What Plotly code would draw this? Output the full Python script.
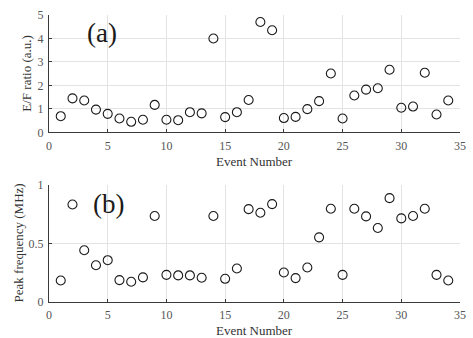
import plotly.graph_objects as go
from plotly.subplots import make_subplots

events = list(range(1, 35))

ef_ratio = [0.69, 1.45, 1.36, 0.97, 0.79, 0.59, 0.45, 0.54, 1.17, 0.54,
            0.52, 0.86, 0.81, 4.00, 0.65, 0.86, 1.38, 4.70, 4.35, 0.61,
            0.66, 0.99, 1.33, 2.51, 0.59, 1.57, 1.82, 1.88, 2.67, 1.05,
            1.10, 2.54, 0.76, 1.36]

peak_freq = [0.184, 0.833, 0.442, 0.314, 0.357, 0.187, 0.173, 0.210, 0.734, 0.232,
             0.227, 0.227, 0.207, 0.734, 0.198, 0.286, 0.793, 0.762, 0.836, 0.252,
             0.204, 0.295, 0.552, 0.796, 0.232, 0.796, 0.731, 0.632, 0.887, 0.714,
             0.734, 0.796, 0.232, 0.184]

x_ticks = [0, 5, 10, 15, 20, 25, 30, 35]
ef_ticks = [0, 1, 2, 3, 4, 5]
pf_ticks = [0, 0.5, 1]
pf_ticklabels = ["0", "0.5", "1"]

FONT = "Liberation Serif"
AXIS_COLOR = "#3a3a3a"
TICK_COLOR = "#555555"
GRID_COLOR = "#e3e3e3"

fig = make_subplots(rows=2, cols=1, vertical_spacing=0.0)

marker = dict(symbol="circle-open", size=9, color="#1a1a1a", line=dict(width=1.1, color="#1a1a1a"))

fig.add_trace(go.Scatter(x=events, y=ef_ratio, mode="markers", marker=marker,
                         showlegend=False), row=1, col=1)
fig.add_trace(go.Scatter(x=events, y=peak_freq, mode="markers", marker=marker,
                         showlegend=False), row=2, col=1)

common_x = dict(range=[0, 35], tickvals=x_ticks, showgrid=True, gridcolor=GRID_COLOR,
                gridwidth=1, zeroline=False, showline=True, linecolor=AXIS_COLOR,
                linewidth=1, ticks="inside", ticklen=3, tickcolor=AXIS_COLOR,
                ticklabelstandoff=2,
                tickfont=dict(family=FONT, size=12, color=TICK_COLOR), mirror=False)
fig.update_xaxes(**common_x, domain=[0, 1])

common_y = dict(showgrid=True, gridcolor=GRID_COLOR, gridwidth=1, zeroline=False,
                showline=True, linecolor=AXIS_COLOR, linewidth=1, ticks="inside",
                ticklen=3, tickcolor=AXIS_COLOR, ticklabelstandoff=2,
                tickfont=dict(family=FONT, size=12, color=TICK_COLOR))

fig.update_yaxes(**common_y, range=[0, 5], tickvals=ef_ticks, domain=[0.591, 1.0],
                 row=1, col=1)
fig.update_yaxes(**common_y, range=[0, 1], tickvals=pf_ticks, ticktext=pf_ticklabels,
                 domain=[0.0, 0.408], row=2, col=1)

title_font = dict(family=FONT, size=13, color="#333333")

# axis titles
fig.add_annotation(x=0.5, y=0, xref="x domain", yref="y domain", text="Event Number",
                   showarrow=False, yshift=-29, xanchor="center", yanchor="middle",
                   font=title_font)
fig.add_annotation(x=0.5, y=0, xref="x2 domain", yref="y2 domain", text="Event Number",
                   showarrow=False, yshift=-28, xanchor="center", yanchor="middle",
                   font=title_font)

fig.add_annotation(x=0, y=0.5, xref="x domain", yref="y domain", text="E/F ratio (a.u.)",
                   showarrow=False, textangle=-90, xshift=-22, xanchor="center",
                   yanchor="middle", font=title_font)
fig.add_annotation(x=0, y=0.5, xref="x2 domain", yref="y2 domain", text="Peak frequency (MHz)",
                   showarrow=False, textangle=-90, xshift=-31, xanchor="center",
                   yanchor="middle", font=title_font)

fig.add_annotation(x=4.5, y=4.24, xref="x", yref="y", text="(a)", showarrow=False,
                   font=dict(family=FONT, size=27, color="#1a1a1a"))
fig.add_annotation(x=5.05, y=0.836, xref="x2", yref="y2", text="(b)", showarrow=False,
                   font=dict(family=FONT, size=27, color="#1a1a1a"))

fig.update_layout(width=473, height=338, margin=dict(l=49, r=7, t=15, b=36),
                  paper_bgcolor="white", plot_bgcolor="white",
                  font=dict(family=FONT))

fig.write_html("out.html")
